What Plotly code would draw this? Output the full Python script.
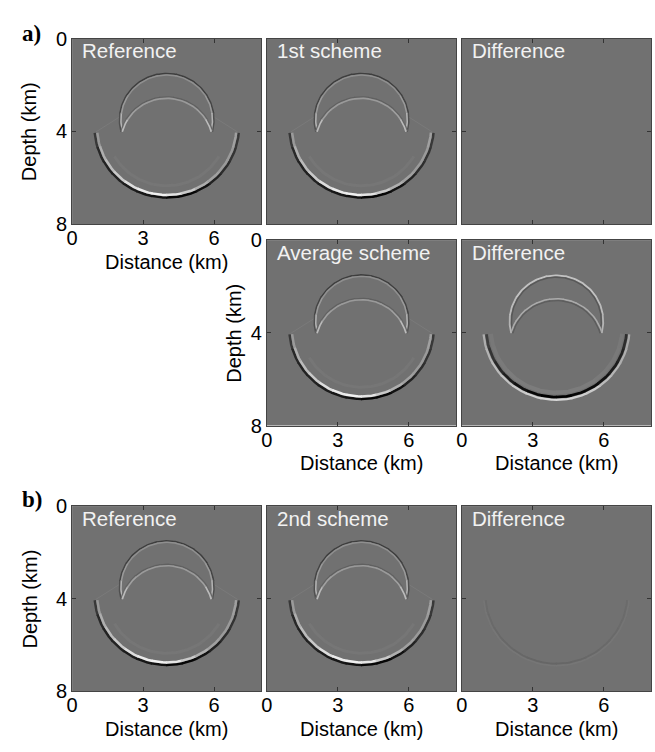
import numpy as np
import plotly.graph_objects as go

W, H = 655, 752

# ---- panel grid (pixels) ----
COL_LEFT = [66.7, 263.3, 460.0]
ROW_TOP = [28.5, 236.0, 510.0]
SIZE = 191.0

panel_rows = [0, 0, 0, 1, 1, 2, 2, 2]
panel_cols = [0, 1, 2, 1, 2, 0, 1, 2]
panel_titles = ["Reference", "1st scheme", "Difference",
                "Average scheme", "Difference",
                "Reference", "2nd scheme", "Difference"]
panel_kind = ["field", "field", "blank", "field", "avgdiff",
              "field", "field", "faintdiff"]
xlabel_panels = [0, 3, 4, 5, 6, 7]
ylabel_panels = [0, 3, 5]

x_ticks = [0, 3, 6]
y_ticks = [0, 4, 8]
x_range = [0, 8]
y_range = [8, 0]

# ---- wavefront geometry (km): centre distance, centre depth, radius ----
lower_circle = [4.0, 3.8, 3.0]
upper_outer_circle = [4.0, 3.5, 1.96]
upper_inner_circle = [4.0, 4.52, 1.97]
ring_circle = [4.0, 3.8, 2.55]

# arc extents in degrees, left end -> right end (depth points down: 90 = deepest)
lower_span = [175, 5]
upper_outer_span = [165, 375]
upper_inner_span = [195, 345]
ring_span = [150, 30]

# head-wave segments linking the two wavefronts
head_left_x, head_left_z = [1.0, 2.05], [4.03, 3.35]
head_right_x, head_right_z = [5.95, 7.0], [3.35, 4.03]

# ---- amplitudes along each arc, left end -> right end (-1 black .. +1 white) ----
field_lower_outer = [-0.5, -0.65, -0.7, -0.7, -0.75, -0.8, -0.85,
                     -0.95, -0.95, -0.85, -0.7, -0.6, -0.55, -0.5]
field_lower_inner = [0.3, 0.45, 0.55, 0.65, 0.8, 0.9, 0.95,
                     0.85, 0.65, 0.45, 0.35, 0.3, 0.3, 0.35]
field_uo_edge = [-0.3, -0.4, -0.45, -0.45, -0.45, -0.45, -0.45, -0.4, -0.3]
field_uo_core = [0.5, 0.3, 0.22, 0.22, 0.22, 0.22, 0.22, 0.3, 0.5]
field_ui_edge = [-0.08, -0.12, -0.15, -0.15, -0.15, -0.15, -0.15, -0.12, -0.08]
field_ui_core = [0.55, 0.35, 0.3, 0.3, 0.3, 0.3, 0.3, 0.35, 0.55]
field_ring = [0.04, 0.04, 0.04, 0.04, 0.04]
field_head = 0.07

avgdiff_lower_outer = [0.45, 0.5, 0.55, 0.6, 0.65, 0.7, 0.75,
                       0.75, 0.7, 0.65, 0.55, 0.5, 0.45, 0.4]
avgdiff_lower_inner = [-0.45, -0.55, -0.65, -0.75, -0.85, -0.95, -1.0,
                       -1.0, -0.95, -0.9, -0.85, -0.75, -0.7, -0.6]
avgdiff_lower_ghost = [0.05, 0.06, 0.07, 0.08, 0.08, 0.08, 0.08,
                       0.08, 0.08, 0.08, 0.07, 0.06, 0.06, 0.05]
avgdiff_uo_edge = [0.5, 0.55, 0.6, 0.6, 0.6, 0.6, 0.6, 0.55, 0.5]
avgdiff_uo_core = [-0.22, -0.22, -0.22, -0.22, -0.22, -0.22, -0.22, -0.22, -0.22]
avgdiff_ui_edge = [0.42, 0.42, 0.42, 0.42, 0.42, 0.42, 0.42, 0.42, 0.42]
avgdiff_ui_core = [-0.18, -0.18, -0.18, -0.18, -0.18, -0.18, -0.18, -0.18, -0.18]

faintdiff_lower_core = [-0.05, -0.06, -0.07, -0.08, -0.09, -0.1, -0.1,
                        -0.1, -0.09, -0.08, -0.07, -0.06, -0.05, -0.05]
faintdiff_lower_edge = [0.03, 0.03, 0.04, 0.04, 0.04, 0.04, 0.04,
                        0.04, 0.04, 0.04, 0.04, 0.04, 0.03, 0.03]

BG = 113
FONT = "Liberation Sans, Arial, sans-serif"
FS = 20


def shade(a):
    v = BG + a * (248 - BG) if a >= 0 else BG + a * BG
    v = int(round(v))
    return f"rgb({v},{v},{v})"


fig = go.Figure()


def add_band(xa, ya, circle, span, offset, width, amps):
    """Draw one wavelet lobe along a circular arc, one segment per amplitude."""
    cx, cz, r = circle
    r = r + offset
    a0, a1 = span
    n = len(amps)
    step = (a1 - a0) / n
    ovl = 0.4 * np.sign(step)
    for i, a in enumerate(amps):
        s0 = a0 + i * step - (ovl if i > 0 else 0)
        s1 = a0 + (i + 1) * step + (ovl if i < n - 1 else 0)
        th = np.radians(np.linspace(s0, s1, 16))
        fig.add_trace(go.Scatter(
            x=cx + r * np.cos(th), y=cz + r * np.sin(th),
            mode="lines", line=dict(color=shade(a), width=width),
            xaxis=xa, yaxis=ya, hoverinfo="skip", showlegend=False))


def add_line(xa, ya, xs, zs, width, a):
    fig.add_trace(go.Scatter(
        x=xs, y=zs, mode="lines", line=dict(color=shade(a), width=width),
        xaxis=xa, yaxis=ya, hoverinfo="skip", showlegend=False))


layout = {}
annotations = []
for k in range(8):
    r, c = panel_rows[k], panel_cols[k]
    left, top = COL_LEFT[c], ROW_TOP[r]
    suffix = "" if k == 0 else str(k + 1)
    xa, ya = "x" + suffix, "y" + suffix
    common = dict(ticks="inside", ticklen=4, tickcolor="#333333",
                  showline=True, linecolor="#444444", linewidth=1,
                  mirror="ticks", showgrid=False, zeroline=False,
                  fixedrange=True,
                  tickfont=dict(family=FONT, size=FS, color="black"))
    layout["xaxis" + suffix] = dict(
        domain=[left / W, (left + SIZE) / W], anchor=ya, range=x_range,
        tickvals=x_ticks, ticktext=[str(v) for v in x_ticks],
        showticklabels=k in xlabel_panels, ticklabelstandoff=-4, **common)
    layout["yaxis" + suffix] = dict(
        domain=[1 - (top + SIZE) / H, 1 - top / H], anchor=xa, range=y_range,
        tickvals=y_ticks, ticktext=[str(v) for v in y_ticks],
        showticklabels=k in ylabel_panels, **common)

    # an empty trace keeps every panel (including blank ones) on the page
    fig.add_trace(go.Scatter(x=[None], y=[None], mode="lines", xaxis=xa,
                             yaxis=ya, hoverinfo="skip", showlegend=False))

    kind = panel_kind[k]
    if kind == "field":
        add_band(xa, ya, ring_circle, ring_span, 0.0, 3, field_ring)
        add_line(xa, ya, head_left_x, head_left_z, 1.0, field_head)
        add_line(xa, ya, head_right_x, head_right_z, 1.0, field_head)
        add_band(xa, ya, lower_circle, lower_span, 0.055, 2.5, field_lower_outer)
        add_band(xa, ya, lower_circle, lower_span, -0.055, 2.5, field_lower_inner)
        add_band(xa, ya, upper_outer_circle, upper_outer_span, 0.04, 1.5, field_uo_edge)
        add_band(xa, ya, upper_outer_circle, upper_outer_span, -0.025, 1.5, field_uo_core)
        add_band(xa, ya, upper_inner_circle, upper_inner_span, 0.04, 1.3, field_ui_edge)
        add_band(xa, ya, upper_inner_circle, upper_inner_span, -0.025, 1.6, field_ui_core)
    elif kind == "avgdiff":
        add_band(xa, ya, lower_circle, lower_span, -0.22, 4.0, avgdiff_lower_ghost)
        add_band(xa, ya, lower_circle, lower_span, 0.09, 2.3, avgdiff_lower_outer)
        add_band(xa, ya, lower_circle, lower_span, -0.03, 2.7, avgdiff_lower_inner)
        add_band(xa, ya, upper_outer_circle, upper_outer_span, 0.02, 1.8, avgdiff_uo_edge)
        add_band(xa, ya, upper_outer_circle, upper_outer_span, -0.06, 1.4, avgdiff_uo_core)
        add_band(xa, ya, upper_inner_circle, upper_inner_span, 0.02, 1.6, avgdiff_ui_edge)
        add_band(xa, ya, upper_inner_circle, upper_inner_span, -0.06, 1.3, avgdiff_ui_core)
    elif kind == "faintdiff":
        add_band(xa, ya, lower_circle, lower_span, 0.08, 1.8, faintdiff_lower_edge)
        add_band(xa, ya, lower_circle, lower_span, 0.0, 1.8, faintdiff_lower_core)

    # panel caption
    annotations.append(dict(
        xref="paper", yref="paper", x=(left + 8.0) / W, y=1 - (top - 1.5) / H,
        xanchor="left", yanchor="top", showarrow=False, text=panel_titles[k],
        font=dict(family=FONT, size=20.5, color="#f2f2f2")))
    if k in xlabel_panels:
        annotations.append(dict(
            xref="paper", yref="paper", x=(left + SIZE / 2) / W,
            y=1 - (top + SIZE + 39) / H, xanchor="center", yanchor="middle",
            showarrow=False, text="Distance (km)",
            font=dict(family=FONT, size=FS, color="black")))
    if k in ylabel_panels:
        xc = 24 if r != 1 else 230
        annotations.append(dict(
            xref="paper", yref="paper", x=xc / W, y=1 - (top + SIZE / 2) / H,
            xanchor="center", yanchor="middle", textangle=-90,
            showarrow=False, text="Depth (km)",
            font=dict(family=FONT, size=FS, color="black")))

# figure part labels
for lab, yc in (("a)", 23), ("b)", 503)):
    annotations.append(dict(
        xref="paper", yref="paper", x=26 / W, y=1 - yc / H,
        xanchor="center", yanchor="middle", showarrow=False,
        text=f"<b>{lab}</b>",
        font=dict(family="Liberation Serif, Times New Roman, serif", size=23,
                  color="black")))

fig.update_layout(
    width=W, height=H, margin=dict(l=0, r=0, t=0, b=0),
    paper_bgcolor="white", plot_bgcolor=f"rgb({BG},{BG},{BG})",
    annotations=annotations, showlegend=False, **layout)

fig.write_html(
    "out.html", config={"displayModeBar": False},
    post_script="document.body.style.margin='0';"
                "document.documentElement.style.overflow='hidden';")
